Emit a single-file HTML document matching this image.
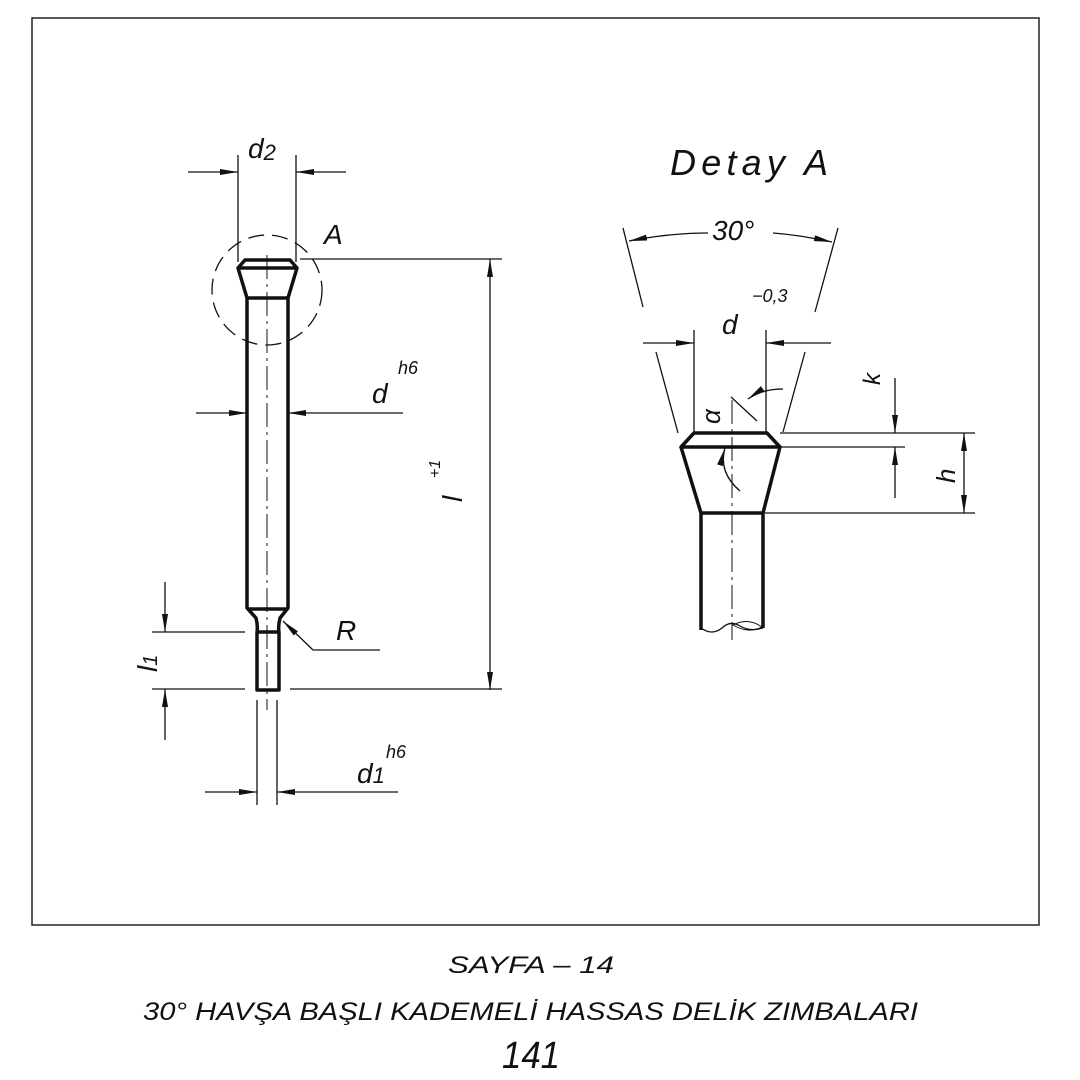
<!DOCTYPE html>
<html><head><meta charset="utf-8"><style>
html,body{margin:0;padding:0;background:#fff;}
svg{display:block;}
text{font-family:"Liberation Sans",sans-serif;font-style:italic;fill:#111;}
</style></head><body>
<svg width="1080" height="1080" viewBox="0 0 1080 1080" xmlns="http://www.w3.org/2000/svg">
<defs>
<marker id="ar" viewBox="0 0 18 6" refX="18" refY="3" markerWidth="18" markerHeight="6" markerUnits="userSpaceOnUse" orient="auto"><path d="M0,0 L18,3 L0,6 Z" fill="#111"/></marker>
</defs>
<rect x="32" y="18" width="1007" height="907" fill="none" stroke="#222" stroke-width="1.5"/>
<g stroke="#111" fill="none">
<!-- LEFT PART -->
<g stroke-width="3.5" stroke-linejoin="round">
<path d="M245,260 L290,260 L297,268 L288,298 L288,608 L280,618 Q278,626 279,632 L279,690 L257,690 L257,632 Q258,626 256,618 L247,608 L247,298 L238,268 Z"/>
<line x1="238" y1="268" x2="297" y2="268"/>
<line x1="247" y1="298" x2="288" y2="298"/>
<line x1="247" y1="609" x2="288" y2="609"/>
<line x1="257" y1="632" x2="279" y2="632"/>
</g>
<g stroke-width="1.3">
<line x1="267" y1="255" x2="267" y2="710" stroke-dasharray="24,5,3,5" stroke-width="1"/>
<circle cx="267" cy="290" r="55" stroke-dasharray="16,8"/>
<line x1="238" y1="155" x2="238" y2="262"/>
<line x1="296" y1="155" x2="296" y2="262"/>
<line x1="188" y1="172" x2="238" y2="172" marker-end="url(#ar)"/>
<line x1="346" y1="172" x2="296" y2="172" marker-end="url(#ar)"/>
<line x1="300" y1="259" x2="502" y2="259"/>
<line x1="490" y1="470" x2="490" y2="259" marker-end="url(#ar)"/>
<line x1="490" y1="470" x2="490" y2="690" marker-end="url(#ar)"/>
<line x1="196" y1="413" x2="247" y2="413" marker-end="url(#ar)"/>
<line x1="403" y1="413" x2="288" y2="413" marker-end="url(#ar)"/>
<line x1="152" y1="632" x2="245" y2="632"/>
<line x1="152" y1="689" x2="245" y2="689"/>
<line x1="290" y1="689" x2="502" y2="689"/>
<line x1="165" y1="582" x2="165" y2="632" marker-end="url(#ar)"/>
<line x1="165" y1="740" x2="165" y2="689" marker-end="url(#ar)"/>
<line x1="380" y1="650" x2="313" y2="650"/>
<line x1="313" y1="650" x2="283" y2="621" marker-end="url(#ar)"/>
<line x1="257" y1="700" x2="257" y2="805"/>
<line x1="277" y1="700" x2="277" y2="805"/>
<line x1="205" y1="792" x2="257" y2="792" marker-end="url(#ar)"/>
<line x1="398" y1="792" x2="277" y2="792" marker-end="url(#ar)"/>
</g>
<!-- RIGHT PART -->
<g stroke-width="3.5" stroke-linejoin="round">
<path d="M681,447 L694,433 L767,433 L780,447 Z"/>
<path d="M681,447 L701,513 L763,513 L780,447"/>
<line x1="701" y1="513" x2="701" y2="630"/>
<line x1="763" y1="513" x2="763" y2="628"/>
</g>
<path d="M701,628 Q712,636 722,628 Q730,620 740,626 Q750,632 763,628" stroke-width="1.3"/>
<path d="M733,625 Q748,617 762,627 Q748,634 733,625 Z" stroke-width="1"/>
<g stroke-width="1.3">
<line x1="732" y1="400" x2="732" y2="640" stroke-dasharray="24,5,3,5" stroke-width="1"/>
<line x1="694" y1="330" x2="694" y2="433"/>
<line x1="766" y1="330" x2="766" y2="433"/>
<line x1="643" y1="343" x2="694" y2="343" marker-end="url(#ar)"/>
<line x1="831" y1="343" x2="766" y2="343" marker-end="url(#ar)"/>
<line x1="623" y1="228" x2="643" y2="307"/>
<line x1="656" y1="352" x2="678" y2="433"/>
<line x1="838" y1="228" x2="815" y2="312"/>
<line x1="805" y1="352" x2="783" y2="432"/>
<path d="M708,233 Q670,233 629,241" marker-end="url(#ar)"/>
<path d="M773,233 Q800,235 832,242" marker-end="url(#ar)"/>
<line x1="731" y1="397" x2="757" y2="421"/>
<path d="M783,389 Q762,389 748,399" marker-end="url(#ar)"/>
<path d="M740,491 Q718,472 725,448" marker-end="url(#ar)"/>
<line x1="780" y1="433" x2="975" y2="433"/>
<line x1="780" y1="447" x2="905" y2="447"/>
<line x1="765" y1="513" x2="975" y2="513"/>
<line x1="895" y1="378" x2="895" y2="433" marker-end="url(#ar)"/>
<line x1="895" y1="498" x2="895" y2="447" marker-end="url(#ar)"/>
<line x1="964" y1="473" x2="964" y2="433" marker-end="url(#ar)"/>
<line x1="964" y1="473" x2="964" y2="513" marker-end="url(#ar)"/>
</g>
</g>
<!-- Labels -->
<text x="248" y="158" font-size="28">d<tspan font-size="22" dy="2">2</tspan></text>
<text x="324" y="244" font-size="28">A</text>
<text x="372" y="403" font-size="28">d</text>
<text x="398" y="374" font-size="18">h6</text>
<text transform="translate(462,502) rotate(-90)" font-size="28">l</text>
<text transform="translate(440,478) rotate(-90)" font-size="16">+1</text>
<text x="336" y="640" font-size="28">R</text>
<text transform="translate(157,672) rotate(-90)" font-size="28">l<tspan font-size="20">1</tspan></text>
<text x="357" y="783" font-size="28">d<tspan font-size="22">1</tspan></text>
<text x="386" y="758" font-size="18">h6</text>
<text x="670" y="175" font-size="36" textLength="158" lengthAdjust="spacing">Detay A</text>
<text x="712" y="240" font-size="28">30°</text>
<text x="722" y="334" font-size="28">d</text>
<text x="752" y="302" font-size="18">−0,3</text>
<text transform="translate(720,424) rotate(-90)" font-size="26">α</text>
<text transform="translate(880,385) rotate(-90)" font-size="24">k</text>
<text transform="translate(955,483) rotate(-90)" font-size="26">h</text>
<text x="448" y="973" font-size="24" textLength="166" lengthAdjust="spacingAndGlyphs">SAYFA – 14</text>
<text x="143" y="1020" font-size="25" textLength="775" lengthAdjust="spacingAndGlyphs">30° HAVŞA BAŞLI KADEMELİ HASSAS DELİK ZIMBALARI</text>
<text x="502" y="1068" font-size="38" textLength="58" lengthAdjust="spacingAndGlyphs">141</text>
</svg>
</body></html>
